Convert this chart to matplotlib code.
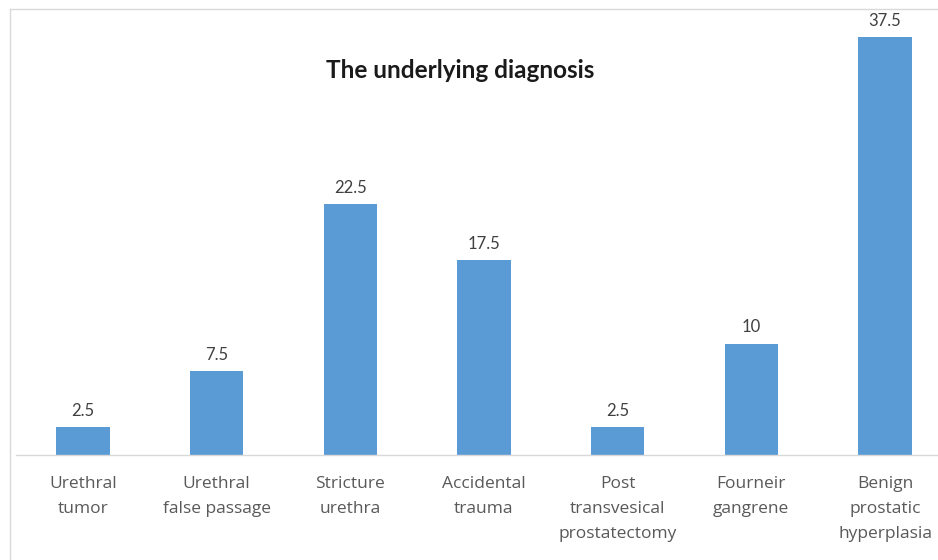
import matplotlib
matplotlib.use('Agg')
import matplotlib.pyplot as plt
from matplotlib.lines import Line2D

# data
categories = ['Urethral\ntumor', 'Urethral\nfalse passage', 'Stricture\nurethra',
              'Accidental\ntrauma', 'Post\ntransvesical\nprostatectomy',
              'Fourneir\ngangrene', 'Benign\nprostatic\nhyperplasia']
values = [2.5, 7.5, 22.5, 17.5, 2.5, 10, 37.5]
value_labels = ['2.5', '7.5', '22.5', '17.5', '2.5', '10', '37.5']

W, H = 938, 560
fig = plt.figure(figsize=(W / 100, H / 100), dpi=100)
fig.patch.set_facecolor('white')

# axes placed in pixel terms: x axis at y=455, top at y=9, left at x=16
ax = fig.add_axes([16 / W, 1 - 455 / H, 922 / W, 446 / H])
x = list(range(len(categories)))
ax.bar(x, values, width=0.4, color='#5B9BD5', zorder=2)
ax.set_xlim(-0.5, -0.5 + 922 / 133.7)
ax.set_ylim(0, 40)

for xi, v, lab in zip(x, values, value_labels):
    ax.annotate(lab, (xi, v), xytext=(0, 6), textcoords='offset points',
                ha='center', va='bottom', fontsize=12, color='#404040',
                family='Lato')

ax.set_xticks(x)
ax.set_xticklabels(categories, fontsize=12.5, color='#595959',
                   family='Open Sans', linespacing=1.75)
ax.tick_params(axis='x', length=0, pad=15)
ax.set_yticks([])
for s in ['top', 'right', 'left']:
    ax.spines[s].set_visible(False)
ax.spines['bottom'].set_color('#d9d9d9')
ax.spines['bottom'].set_linewidth(1)

fig.text(460 / W, 1 - 70 / H, 'The underlying diagnosis', ha='center',
         va='center', fontsize=17.5, fontweight='bold', color='#1a1a1a',
         family='Lato')

# chart frame (top and left edge visible in the reference)
fig.add_artist(Line2D([10 / W, 1], [1 - 9 / H, 1 - 9 / H], color='#d9d9d9', lw=1))
fig.add_artist(Line2D([10 / W, 10 / W], [0, 1 - 9 / H], color='#d9d9d9', lw=1))

plt.savefig('out.png', dpi=100)
